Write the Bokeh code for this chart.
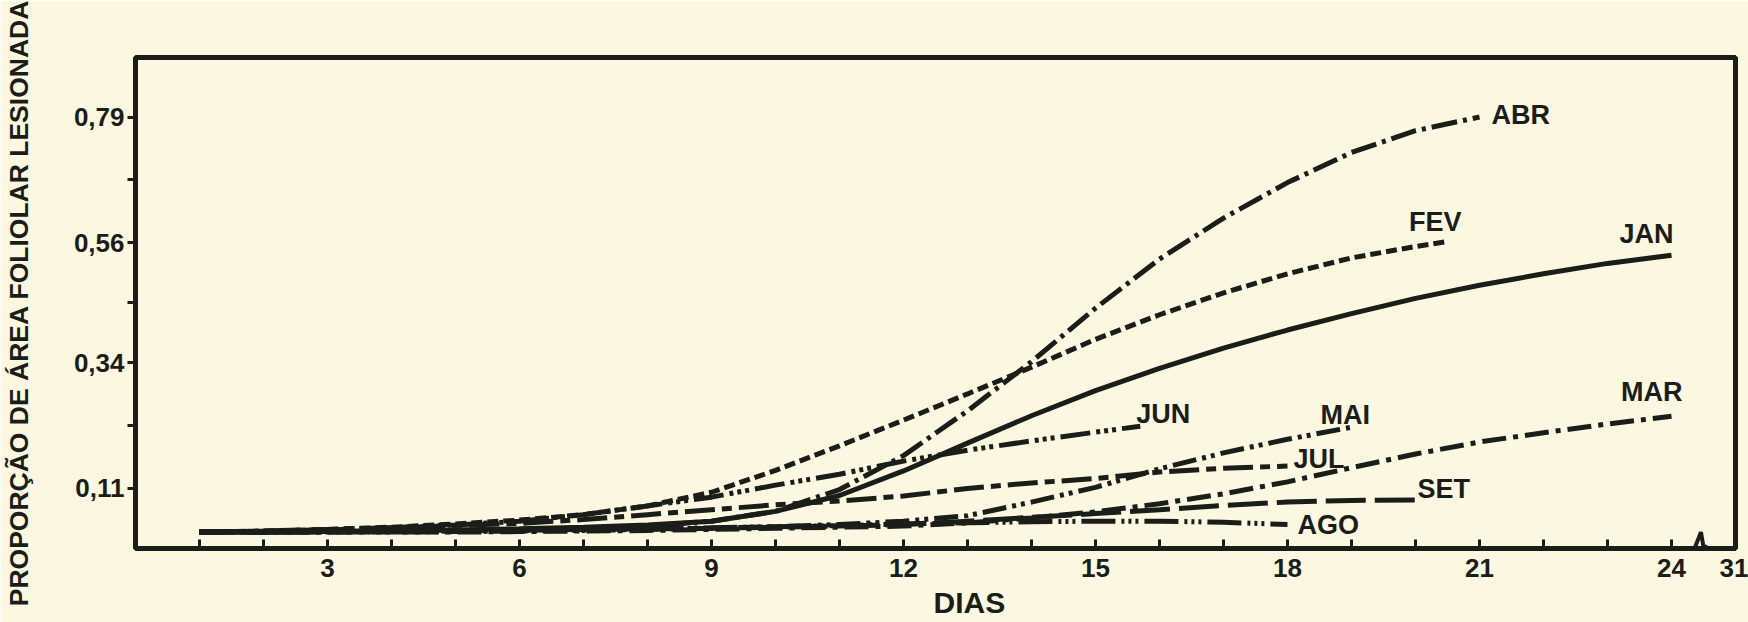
from bokeh.plotting import figure
from bokeh.models import FixedTicker, Label, Range1d, Title
from bokeh.embed import file_html
from bokeh.resources import INLINE

INK = "#1b1d18"
BG = "#fbf7e1"
FONT = "Liberation Sans"

# ---------------- data ----------------
jan_days = list(range(1, 25))
jan = [0.030, 0.030, 0.031, 0.032, 0.034, 0.036, 0.039, 0.043, 0.050, 0.068,
       0.097, 0.142, 0.193, 0.243, 0.289, 0.330, 0.367, 0.400, 0.430, 0.458,
       0.482, 0.503, 0.522, 0.537]

fev_days = list(range(1, 21)) + [20.5]
fev = [0.030, 0.032, 0.035, 0.039, 0.045, 0.052, 0.062, 0.078, 0.103, 0.143,
       0.188, 0.235, 0.283, 0.332, 0.383, 0.428, 0.468, 0.503, 0.532, 0.553,
       0.562]

mar_days = list(range(1, 25))
mar = [0.030, 0.030, 0.030, 0.030, 0.030, 0.031, 0.032, 0.033, 0.035, 0.037,
       0.039, 0.041, 0.047, 0.056, 0.067, 0.082, 0.100, 0.122, 0.148, 0.173,
       0.195, 0.212, 0.228, 0.242]

abr_days = list(range(1, 22))
abr = [0.030, 0.030, 0.030, 0.031, 0.032, 0.033, 0.036, 0.041, 0.050, 0.068,
       0.108, 0.170, 0.252, 0.342, 0.440, 0.530, 0.605, 0.670, 0.725, 0.765,
       0.790]

mai_days = list(range(1, 20))
mai = [0.030, 0.030, 0.030, 0.030, 0.031, 0.032, 0.033, 0.035, 0.037, 0.040,
       0.044, 0.050, 0.060, 0.085, 0.112, 0.146, 0.175, 0.200, 0.222]

jun_days = list(range(1, 16)) + [15.7]
jun = [0.030, 0.031, 0.034, 0.038, 0.043, 0.050, 0.062, 0.078, 0.094, 0.116,
       0.136, 0.160, 0.180, 0.197, 0.213, 0.224]

jul_days = list(range(1, 19))
jul = [0.030, 0.032, 0.035, 0.038, 0.042, 0.046, 0.053, 0.062, 0.071, 0.080,
       0.087, 0.096, 0.110, 0.120, 0.128, 0.140, 0.147, 0.151]

ago_days = list(range(1, 19))
ago = [0.030, 0.030, 0.031, 0.032, 0.033, 0.034, 0.035, 0.036, 0.038, 0.040,
       0.042, 0.045, 0.047, 0.049, 0.050, 0.050, 0.048, 0.044]

set_days = list(range(1, 21))
set_ = [0.030, 0.030, 0.031, 0.032, 0.033, 0.034, 0.035, 0.036, 0.037, 0.039,
        0.041, 0.044, 0.050, 0.057, 0.064, 0.071, 0.079, 0.085, 0.088, 0.089]

x_ticks = list(range(1, 26))
x_tick_text = {3: "3", 6: "6", 9: "9", 12: "12", 15: "15", 18: "18",
               21: "21", 24: "24", 25: "31"}
y_ticks = [0.11, 0.34, 0.56, 0.79]
y_tick_text = ["0,11", "0,34", "0,56", "0,79"]
y_minor_ticks = [0.225, 0.45, 0.675]

# ---------------- styles ----------------
series = [
    # name, days, values, dash, label offsets (px), align
    ("JAN", jan_days, jan, "solid", (2, 21), "right"),
    ("FEV", fev_days, fev, "11 5", (14, 20), "right"),
    ("MAR", mar_days, mar, "24 7 5 7", (11, 24), "right"),
    ("ABR", abr_days, abr, "26 6 4 6", (12, 2), "left"),
    ("MAI", mai_days, mai, "24 6 4 5 4 6", (-31, 12), "left"),
    ("JUN", jun_days, jun, "30 6 4 4 4 4 4 6", (-4, 12), "left"),
    ("JUL", jul_days, jul, "30 7 10 7", (6, 7), "left"),
    ("AGO", ago_days, ago, "34 6 3 4 3 4 3 6", (10, -1), "left"),
    ("SET", set_days, set_, "40 9", (2, 11), "left"),
]

p = figure(width=1748, height=622, output_backend="svg", toolbar_location=None,
           x_range=Range1d(0, 25), y_range=Range1d(0, 0.899),
           min_border_left=133, min_border_right=13,
           min_border_top=57, min_border_bottom=72)
p.background_fill_color = BG
p.border_fill_color = BG
p.outline_line_color = INK
p.outline_line_width = 5
p.xgrid.visible = False
p.ygrid.visible = False

# x axis
p.xaxis.ticker = FixedTicker(ticks=x_ticks, minor_ticks=[])
p.xaxis.major_label_overrides = {t: x_tick_text.get(t, "") for t in x_ticks}
p.xaxis.axis_line_color = INK
p.xaxis.axis_line_width = 5
p.xaxis.major_tick_in = 9
p.xaxis.major_tick_out = 0
p.xaxis.major_tick_line_width = 3
p.xaxis.major_tick_line_color = INK
p.xaxis.major_label_standoff = 10
p.xaxis.major_label_text_line_height = 0.85
p.xaxis.major_label_text_font = FONT
p.xaxis.major_label_text_font_style = "bold"
p.xaxis.major_label_text_font_size = "26px"
p.xaxis.major_label_text_color = INK

# y axis
p.yaxis.ticker = FixedTicker(ticks=y_ticks, minor_ticks=y_minor_ticks)
p.yaxis.major_label_overrides = {t: s for t, s in zip(y_ticks, y_tick_text)}
p.yaxis.axis_line_color = INK
p.yaxis.axis_line_width = 4
p.yaxis.major_tick_in = 0
p.yaxis.major_tick_out = 8
p.yaxis.minor_tick_in = 0
p.yaxis.minor_tick_out = 8
p.yaxis.major_tick_line_width = 3
p.yaxis.minor_tick_line_width = 3
p.yaxis.major_tick_line_color = INK
p.yaxis.minor_tick_line_color = INK
p.yaxis.major_label_standoff = 3
p.yaxis.major_label_text_font = FONT
p.yaxis.major_label_text_font_style = "bold"
p.yaxis.major_label_text_font_size = "26px"
p.yaxis.major_label_text_color = INK
p.yaxis.axis_label = "PROPORÇÃO DE ÁREA FOLIOLAR LESIONADA"
p.yaxis.axis_label_standoff = 37
p.yaxis.axis_label_text_font = FONT
p.yaxis.axis_label_text_font_style = "bold"
p.yaxis.axis_label_text_font_size = "26.5px"
p.yaxis.axis_label_text_color = INK

# curves and their month labels
for name, d, v, dash, (dx, dy), align in series:
    p.line(d, v, line_color=INK, line_width=5, line_dash=dash)
    p.add_layout(Label(x=d[-1], y=v[-1], x_offset=dx, y_offset=dy, text=name,
                       text_align=align, text_baseline="middle",
                       text_font=FONT, text_font_style="bold",
                       text_font_size="27px", text_color=INK))

# axis break marker between 24 and 31
p.line([24.36, 24.46, 24.5, 24.56], [0.0, 0.03, 0.003, 0.003],
       line_color=INK, line_width=4)

# x axis title
p.add_layout(Title(text="DIAS", align="left", offset=798, standoff=8,
                   text_line_height=0.9,
                   text_font=FONT, text_font_style="bold",
                   text_font_size="30px", text_color=INK), "below")

open("out.html", "w").write(file_html(p, INLINE))
